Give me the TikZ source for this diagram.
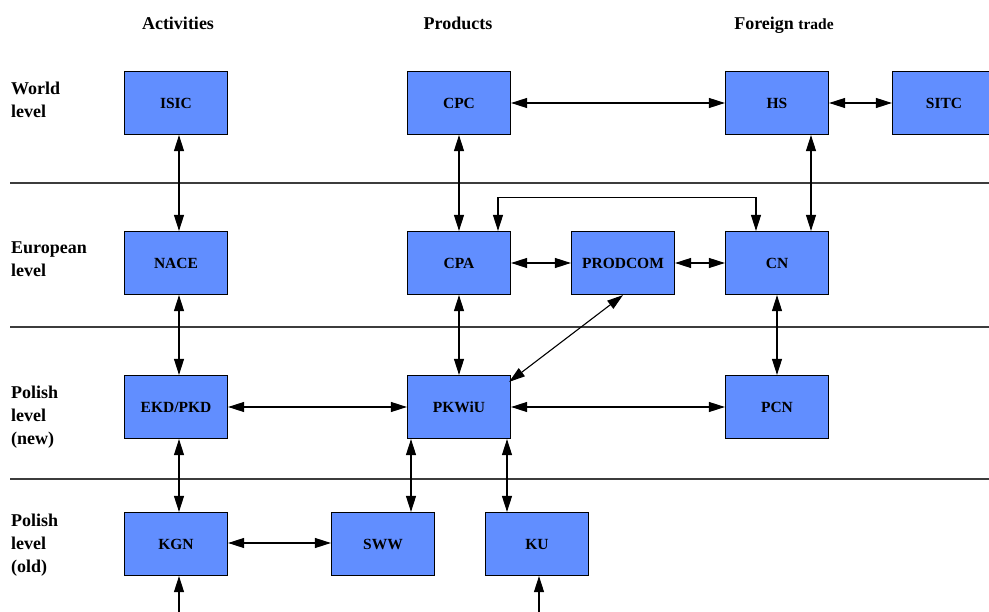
\documentclass[tikz,border=0pt]{standalone}
\usepackage{fontspec}
\setmainfont{Liberation Serif}
\usetikzlibrary{arrows.meta,calc}
\definecolor{boxblue}{RGB}{97,142,255}
\definecolor{sepgray}{RGB}{60,60,60}
\tikzset{
  cls/.style={draw=black, line width=1.2pt, fill=boxblue, minimum width=103pt, minimum height=63pt, inner sep=0pt, font=\bfseries\fontsize{15.5}{18}\selectfont},
  hdr/.style={anchor=base, inner sep=0pt, font=\bfseries\fontsize{18}{22}\selectfont},
  lvl/.style={anchor=north west, inner sep=0pt, align=left, font=\bfseries\fontsize{18}{23}\selectfont},
  link/.style={line width=1.1pt, {Triangle[length=16pt,width=10pt]}-{Triangle[length=16pt,width=10pt]}},
  onelink/.style={line width=1.1pt, -{Triangle[length=16pt,width=10pt]}},
  sepline/.style={draw=sepgray, line width=1.2pt}
}
\begin{document}
\begin{tikzpicture}[x=1pt,y=-1pt]
\useasboundingbox (0,0) rectangle (989,612);
% headers
\node[hdr] (hact) at (178,30) {Activities};
\node[hdr] (hprod) at (458,30) {Products};
\node[hdr] (hft) at (784,30) {Foreign {\fontsize{15.5}{18}\selectfont trade}};
% level labels
\node[lvl] (lw) at (11,82) {World\\level};
\node[lvl] (le) at (11,242) {European\\level};
\node[lvl] (lpn) at (11,386) {Polish\\level\\(new)};
\node[lvl] (lpo) at (11,514) {Polish\\level\\(old)};
% separators
\draw[sepline] (10,183) -- (989,183);
\draw[sepline] (10,327) -- (989,327);
\draw[sepline] (10,479) -- (989,479);
% boxes
\node[cls] (isic) at (176,103) {ISIC};
\node[cls] (cpc) at (459,103) {CPC};
\node[cls] (hs) at (777,103) {HS};
\node[cls] (sitc) at (944,103) {SITC};
\node[cls] (nace) at (176,263) {NACE};
\node[cls] (cpa) at (459,263) {CPA};
\node[cls] (prodcom) at (623,263) {PRODCOM};
\node[cls] (cn) at (777,263) {CN};
\node[cls] (ekd) at (176,407) {EKD/PKD};
\node[cls] (pkwiu) at (459,407) {PKWiU};
\node[cls] (pcn) at (777,407) {PCN};
\node[cls] (kgn) at (176,544) {KGN};
\node[cls] (sww) at (383,544) {SWW};
\node[cls] (ku) at (537,544) {KU};
% incoming from below
\coordinate (kgnin) at (179,630);
\coordinate (kuin) at (539,630);
% connectors
\draw[link] (cpc.east) -- (hs.west);
\draw[link] (hs.east) -- (sitc.west);
\draw[link] ($(isic.south)+(3,0)$) -- ($(nace.north)+(3,0)$);
\draw[link] (cpc.south) -- (cpa.north);
\draw[link] ($(hs.south)+(34,0)$) -- ($(cn.north)+(34,0)$);
\draw[link] ($(cpa.north)+(39,0)$) -- ++(0,-33) -| ($(cn.north)+(-21,0)$);
\draw[link] (cpa.east) -- (prodcom.west);
\draw[link] (prodcom.east) -- (cn.west);
\draw[link] ($(nace.south)+(3,0)$) -- ($(ekd.north)+(3,0)$);
\draw[link] (cpa.south) -- (pkwiu.north);
\draw[link] (prodcom.south) -- ($(pkwiu.north east)+(-2,7)$);
\draw[link] (cn.south) -- (pcn.north);
\draw[link] (ekd.east) -- (pkwiu.west);
\draw[link] (pkwiu.east) -- (pcn.west);
\draw[link] ($(ekd.south)+(3,0)$) -- ($(kgn.north)+(3,0)$);
\draw[link] ($(pkwiu.south)+(-48,0)$) -- ($(sww.north)+(28,0)$);
\draw[link] ($(pkwiu.south)+(48,0)$) -- ($(ku.north)+(-30,0)$);
\draw[link] ($(kgn.east)+(0,-1)$) -- ($(sww.west)+(0,-1)$);
\draw[onelink] (kgnin) -- ($(kgn.south)+(3,0)$);
\draw[onelink] (kuin) -- ($(ku.south)+(2,0)$);
\end{tikzpicture}
\end{document}
